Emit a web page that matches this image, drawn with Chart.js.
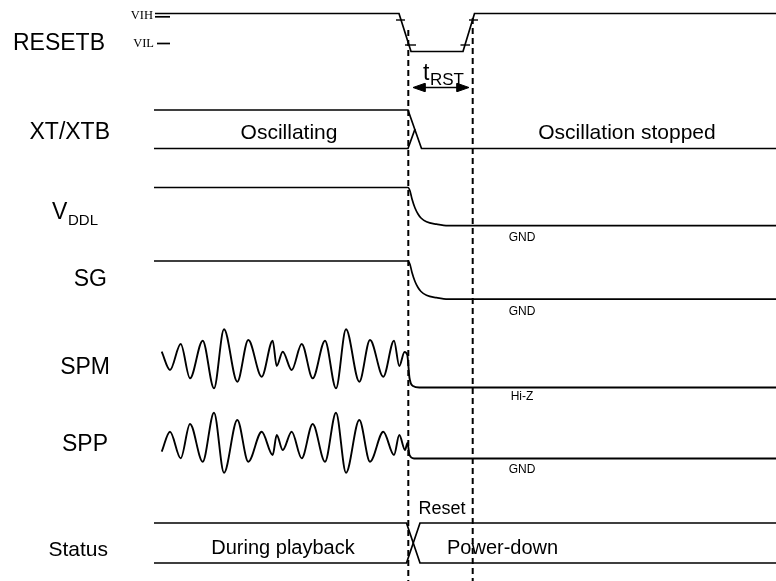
<!DOCTYPE html>
<html>
<head>
<meta charset="utf-8">
<script src="https://cdn.jsdelivr.net/npm/chart.js@4.4.1/dist/chart.umd.min.js"></script>
<style>
  body { margin: 0; background: #fff; }
  canvas { display: block; }
</style>
</head>
<body>
<canvas id="timing" width="776" height="581"></canvas>
<script>
// waveform points: [time position, level position]
const resetb = [[155,13.5],[399,13.5],[411,51.5],[463,51.5],[474.5,13.5],[776,13.5]];
const vihMark = [[155,16.8],[170,16.8]];
const vilMark = [[157,43.5],[170,43.5]];
const resetTicks = [
  [[396,20],[405,20]],
  [[405,45],[416,45]],
  [[460.5,45],[470,45]],
  [[469,20],[478,20]]
];
const xtHigh = [[154,110],[408,110],[421.5,148.5],[776,148.5]];
const xtLow = [[154,148.5],[408,148.5],[415,129]];
const vddl = [[154,187.5],[408,187.5],[410,191],[412,199],[415,208],[418,214],[421,218],[426.5,221.8],[436.5,224.2],[448,225.7],[776,225.7]];
const sg = [[154,261],[408,261],[410,264.5],[412,272.5],[415,281.5],[418,287.5],[421,291.5],[426.5,295.3],[436.5,297.7],[448,299.2],[776,299.2]];
const spm = [
  [161.7,351.7],[170,370],[180.7,344],[190,378.3],[202.7,340.7],[214,388.3],[224,329.3],
  [237.3,381.7],[248.3,340],[261.7,376.7],[272.7,340.7],[276.7,366],[282.7,351.7],[291.7,370],
  [301.7,344],[312.7,378.3],[325,340.7],[336,388.3],[346,329.3],[359.3,381.7],[370,340],
  [383.3,376.7],[394,340.7],[399.3,366],[404.5,352],[407.3,355],[409.5,378],[413,386],
  [419.3,387.5],[776,387.5]
];
const spp = [
  [161.7,451.7],[170,431.7],[180.7,458.3],[190,424],[202.7,461.7],[214,412.7],[224,472.7],
  [237.3,420],[248.3,461.7],[261.7,431.7],[272.7,455],[276.7,435],[282.7,450],[291.7,431.7],
  [301.7,458.3],[312.7,424],[325,461.7],[336,412.7],[346,472.7],[359.3,420],[370,461.7],
  [383.3,431.7],[394,455],[399.3,435],[405,450],[407.5,443],[409.5,455],[414,458.5],[776,458.5]
];
const statusA = [[154,523],[406.5,523],[420,563],[776,563]];
const statusB = [[154,563],[406.5,563],[420,523],[776,523]];
const resetStart = [[408.3,30],[408.3,581]];
const resetEnd = [[472.7,18],[472.7,581]];
const trstLine = [[418,87.5],[464,87.5]];
const trstHeadL = [[413,87.5],[425,83.3],[425,91.7],[413,87.5]];
const trstHeadR = [[469,87.5],[457,83.3],[457,91.7],[469,87.5]];

// text content
const signalNames = ['RESETB', 'XT/XTB', 'SG', 'SPM', 'SPP', 'Status'];
const stateTexts = ['Oscillating', 'Oscillation stopped', 'During playback', 'Power-down', 'Reset'];
const levelTexts = ['GND', 'GND', 'Hi-Z', 'GND'];

const toPts = arr => arr.map(p => ({ x: p[0], y: p[1] }));

function wave(arr, extra) {
  return Object.assign({
    data: toPts(arr),
    borderColor: '#000',
    borderWidth: 1.7,
    pointRadius: 0,
    fill: false,
    tension: 0
  }, extra || {});
}

const datasets = [
  wave(resetb),
  wave(vihMark),
  wave(vilMark),
  ...resetTicks.map(t => wave(t, { borderWidth: 1.4 })),
  wave(xtHigh),
  wave(xtLow),
  wave(vddl, { cubicInterpolationMode: 'monotone' }),
  wave(sg, { cubicInterpolationMode: 'monotone' }),
  wave(spm, { cubicInterpolationMode: 'monotone', borderWidth: 1.9 }),
  wave(spp, { cubicInterpolationMode: 'monotone', borderWidth: 1.9 }),
  wave(statusA),
  wave(statusB),
  wave(resetStart, { borderDash: [6, 4], borderWidth: 2 }),
  wave(resetEnd, { borderDash: [6, 4], borderWidth: 2 }),
  wave(trstLine, { borderWidth: 1.5 }),
  wave(trstHeadL, { fill: 'shape', backgroundColor: '#000', borderWidth: 1 }),
  wave(trstHeadR, { fill: 'shape', backgroundColor: '#000', borderWidth: 1 })
];

const SANS = '"Liberation Sans", Arial, sans-serif';
const SERIF = '"Liberation Serif", "Times New Roman", serif';

// where each piece of text sits
const textLayout = [
  { t: signalNames[0], x: 105, y: 44, size: 23, align: 'right' },
  { t: signalNames[1], x: 110, y: 133, size: 23, align: 'right' },
  { t: signalNames[2], x: 107, y: 280, size: 23, align: 'right' },
  { t: signalNames[3], x: 110, y: 368, size: 23, align: 'right' },
  { t: signalNames[4], x: 108, y: 445, size: 23, align: 'right' },
  { t: signalNames[5], x: 108, y: 550, size: 21, align: 'right' },
  { t: 'V', x: 52, y: 213, size: 23, align: 'left' },
  { t: 'DDL', x: 68, y: 221, size: 15, align: 'left' },
  { t: stateTexts[0], x: 289, y: 133, size: 21, align: 'center' },
  { t: stateTexts[1], x: 627, y: 133, size: 21, align: 'center' },
  { t: stateTexts[2], x: 283, y: 548, size: 20, align: 'center' },
  { t: stateTexts[3], x: 447, y: 548, size: 20, align: 'left' },
  { t: stateTexts[4], x: 442, y: 509, size: 18, align: 'center' },
  { t: levelTexts[0], x: 522, y: 238, size: 12, align: 'center' },
  { t: levelTexts[1], x: 522, y: 312, size: 12, align: 'center' },
  { t: levelTexts[2], x: 522, y: 397, size: 12, align: 'center' },
  { t: levelTexts[3], x: 522, y: 470, size: 12, align: 'center' },
  { t: 't', x: 423, y: 74, size: 23, align: 'left' },
  { t: 'RST', x: 430, y: 80, size: 17, align: 'left' },
  { t: 'VIH', x: 153, y: 16, size: 12.5, align: 'right', serif: true },
  { t: 'VIL', x: 154, y: 44, size: 12.5, align: 'right', serif: true }
];

const textPlugin = {
  id: 'diagramText',
  afterDatasetsDraw(chart) {
    const { ctx, scales } = chart;
    ctx.save();
    ctx.fillStyle = '#000';
    ctx.textBaseline = 'middle';
    textLayout.forEach(d => {
      ctx.font = d.size + 'px ' + (d.serif ? SERIF : SANS);
      ctx.textAlign = d.align;
      ctx.fillText(d.t, scales.x.getPixelForValue(d.x), scales.y.getPixelForValue(d.y));
    });
    ctx.restore();
  }
};

new Chart(document.getElementById('timing'), {
  type: 'line',
  data: { datasets: datasets },
  options: {
    responsive: false,
    animation: false,
    layout: { padding: 0 },
    scales: {
      x: { type: 'linear', min: 0, max: 776, display: false },
      y: { type: 'linear', min: 0, max: 581, reverse: true, display: false }
    },
    plugins: {
      legend: { display: false },
      tooltip: { enabled: false }
    }
  },
  plugins: [textPlugin]
});
</script>
</body>
</html>
